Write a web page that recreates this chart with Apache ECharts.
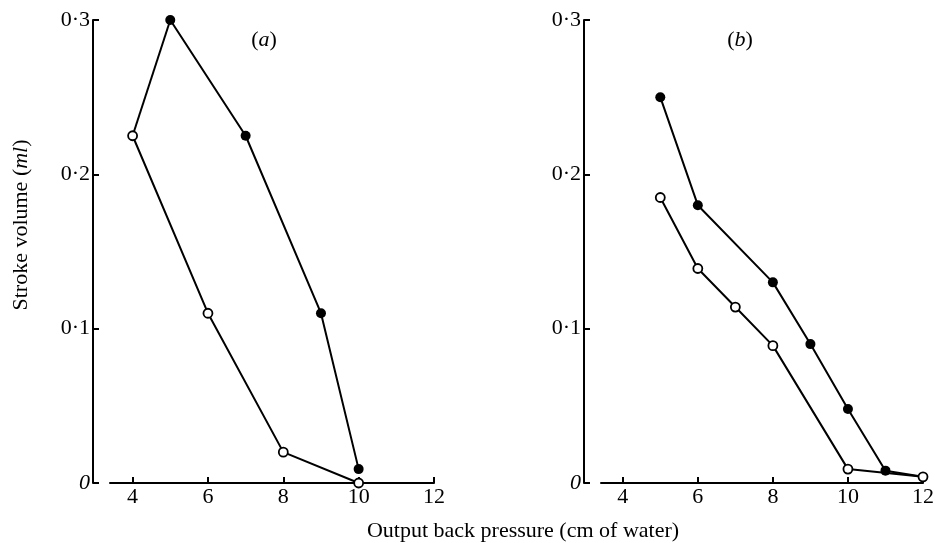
<!DOCTYPE html>
<html>
<head>
<meta charset="utf-8">
<script src="https://cdn.jsdelivr.net/npm/echarts@6/dist/echarts.min.js"></script>
<style>
  html, body { margin: 0; padding: 0; background: #fff; }
  #chart { width: 937px; height: 543px; }
</style>
</head>
<body>
<div id="chart"></div>
<script>
// tick labels
var xTicks = [4, 6, 8, 10, 12];
var yTicks = [0, 0.1, 0.2, 0.3];

// panel (a)
var pressureAFilled = [5, 7, 9, 10];
var volumeAFilled = [0.3, 0.225, 0.11, 0.009];
var pressureAOpen = [4, 6, 8, 10];
var volumeAOpen = [0.225, 0.11, 0.02, 0];

// panel (b)
var pressureBFilled = [5, 6, 8, 9, 10, 11];
var volumeBFilled = [0.25, 0.18, 0.13, 0.09, 0.048, 0.008];
var pressureBOpen = [5, 6, 7, 8, 10, 12];
var volumeBOpen = [0.185, 0.139, 0.114, 0.089, 0.009, 0.004];

var font = "'Liberation Serif', 'DejaVu Serif', serif";
var fs = 22;
var italic = { fontStyle: 'italic', fontFamily: font, fontSize: fs, color: '#000' };

function pairs(xs, ys) {
    return xs.map(function (x, i) { return [x, ys[i]]; });
}

function yLabel(v) {
    if (v === 0) return '{i|0}';
    return v.toFixed(1).replace('.', '·');
}

function xAxisFor(idx, min) {
    return {
        type: 'value',
        gridIndex: idx,
        min: min,
        max: 12,
        axisLine: { onZero: false, lineStyle: { color: '#000', width: 2 } },
        axisTick: { inside: true, length: 6, customValues: xTicks, lineStyle: { color: '#000', width: 2 } },
        axisLabel: { customValues: xTicks, color: '#000', fontFamily: font, fontSize: fs, margin: 3 },
        splitLine: { show: false }
    };
}

function yAxisFor(idx) {
    return {
        type: 'value',
        gridIndex: idx,
        min: yTicks[0],
        max: yTicks[yTicks.length - 1],
        interval: 0.1,
        offset: 17,
        axisLine: { show: true, onZero: false, lineStyle: { color: '#000', width: 2 } },
        axisTick: { show: true, inside: true, length: 6, lineStyle: { color: '#000', width: 2 } },
        axisLabel: {
            color: '#000', fontFamily: font, fontSize: fs, margin: 3,
            formatter: yLabel,
            rich: { i: italic }
        },
        splitLine: { show: false }
    };
}

function lineSeries(idx, data, open, connector) {
    return {
        type: 'line',
        xAxisIndex: idx,
        yAxisIndex: idx,
        data: data,
        clip: false,
        symbol: connector ? 'none' : 'circle',
        symbolSize: open ? 9 : 10,
        lineStyle: { color: '#000', width: 2 },
        itemStyle: open
            ? { color: '#fff', borderColor: '#000', borderWidth: 1.8 }
            : { color: '#000', borderColor: '#000', borderWidth: 0 },
        z: connector ? 2 : 3
    };
}

function label(x, y, text, rotation) {
    return {
        type: 'text',
        x: x,
        y: y,
        rotation: rotation || 0,
        style: {
            text: text,
            fill: '#000',
            fontFamily: font,
            fontSize: fs,
            align: 'center',
            verticalAlign: 'middle',
            rich: { i: italic }
        }
    };
}

var aFilled = pairs(pressureAFilled, volumeAFilled);
var aOpen = pairs(pressureAOpen, volumeAOpen);
var bFilled = pairs(pressureBFilled, volumeBFilled);
var bOpen = pairs(pressureBOpen, volumeBOpen);

var chart = echarts.init(document.getElementById('chart'));
chart.setOption({
    backgroundColor: '#fff',
    animation: false,
    grid: [
        { left: 110, right: 503, top: 20, bottom: 60 },
        { left: 601, right: 11, top: 20, bottom: 60 }
    ],
    xAxis: [xAxisFor(0, 3.4), xAxisFor(1, 3.42)],
    yAxis: [yAxisFor(0), yAxisFor(1)],
    graphic: [
        label(264, 40, '({i|a})'),
        label(740, 40, '({i|b})'),
        label(21, 225, 'Stroke volume ({i|ml})', Math.PI / 2),
        label(523, 531, 'Output back pressure (cm of water)')
    ],
    series: [
        lineSeries(0, [aOpen[0], aFilled[0]], false, true),
        lineSeries(0, aOpen, true),
        lineSeries(0, aFilled, false),
        lineSeries(1, [bFilled[bFilled.length - 1], bOpen[bOpen.length - 1]], false, true),
        lineSeries(1, bOpen, true),
        lineSeries(1, bFilled, false)
    ]
});
</script>
</body>
</html>
